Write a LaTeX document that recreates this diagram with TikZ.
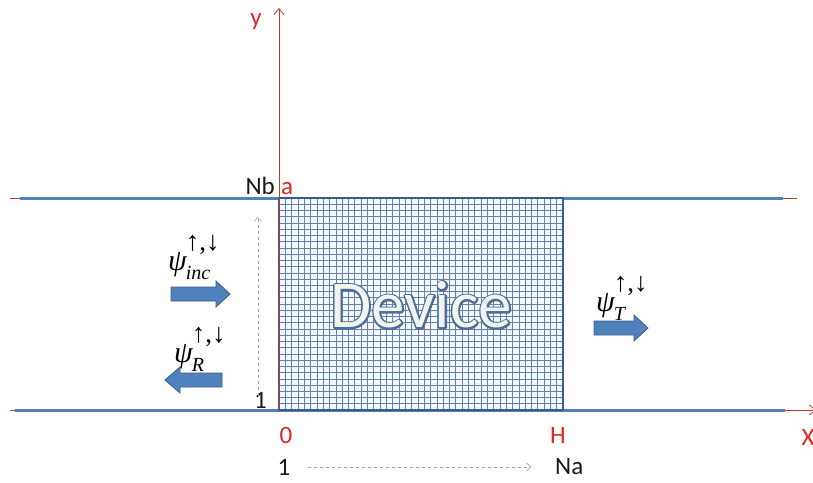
\documentclass[tikz,border=0pt]{standalone}
\usepackage{fontspec}
\setmainfont{Carlito}
\newfontfamily\psifont{Liberation Serif}
\usetikzlibrary{arrows.meta}
\definecolor{lineblue}{HTML}{4F81BD}
\definecolor{darkblue}{HTML}{385D8A}
\definecolor{gridblue}{HTML}{5F84AE}
\definecolor{axisred}{HTML}{C0392B}
\definecolor{labred}{HTML}{E02424}
\definecolor{dashblue}{HTML}{8AA8CC}
\definecolor{devfill}{HTML}{F4F4EE}
\definecolor{devshadow}{HTML}{A0A8B4}
\tikzset{
  lab/.style={font=\fontsize{25}{25}\selectfont, inner sep=0pt, text=black!90},
  redlab/.style={lab, text=labred},
  axisline/.style={axisred, line width=0.8pt},
  bandline/.style={lineblue, line width=3pt},
  gridline/.style={gridblue, line width=0.55pt},
  dasharrow/.style={dashblue, dashed, line width=0.7pt, -{Straight Barb[length=4pt,width=8pt]}},
  blockarrow/.style={fill=lineblue, draw=darkblue, line width=0.8pt, line join=miter},
  psilab/.style={anchor=base west, inner sep=0pt, font=\psifont\fontsize{30}{30}\selectfont\itshape},
  devtext/.style={font=\fontsize{67}{67}\selectfont, inner sep=0pt}
}
\newcommand{\psilabel}[1]{ψ\hspace{-1pt}\rlap{\raisebox{20pt}{\upshape\fontsize{27}{27}\selectfont ↑,↓}}\raisebox{-9pt}{\fontsize{20}{20}\selectfont #1}}
\newcommand{\outlinedtext}[1]{\rlap{\special{pdf:literal direct 1 Tr 3.4 w 1 j 0.30 0.43 0.60 RG}#1\special{pdf:literal direct 0 Tr}}#1}
\begin{document}
\begin{tikzpicture}[x=1pt,y=-1pt]
\useasboundingbox (0,0) rectangle (813,482);
% red horizontal lines under the bands
\draw[axisline] (10,198) -- (797,198);
\draw[axisline, -{Straight Barb[length=6pt,width=10pt]}] (10,410) -- (816,410);
% blue band lines
\draw[bandline] (20,198) -- (783,198);
\draw[bandline] (15,410) -- (785,410);
% device grid
\fill[blue!3] (279,198) rectangle (563,410);
\foreach \i in {1,...,44} \draw[gridline] ({279+\i*284/45},198) -- ({279+\i*284/45},410);
\foreach \j in {1,...,33} \draw[gridline] (279,{198+\j*212/34}) -- (563,{198+\j*212/34});
\draw[darkblue, line width=1.6pt] (279,198) rectangle (563,410);
% y axis
\draw[axisline, -{Straight Barb[length=6pt,width=10pt]}] (279,410) -- (279,8);
% Device text
\node[devtext, text=devfill] (dev) at (421,305) {\outlinedtext{Device}};
% labels
\node[redlab] (ylab) at (256,22) {y};
\node[lab, anchor=base east] (nb) at (275,194) {Nb};
\node[redlab, anchor=base west] (alab) at (281,194) {a};
\node[lab, anchor=base east] (one1) at (267,408) {1};
\node[redlab] (zero) at (286,435) {0};
\node[redlab] (hlab) at (558,435) {H};
\node[redlab] (xlab) at (808,437) {X};
\node[lab] (one2) at (284,467) {1};
\node[lab, anchor=west] (na) at (555,467) {Na};
% dashed index arrows
\coordinate (vs) at (258,396);
\coordinate (ve) at (258,217);
\draw[dasharrow] (vs) -- (ve);
\coordinate (hs) at (308,467);
\coordinate (he) at (531,467);
\draw[dasharrow] (hs) -- (he);
% psi labels
\node[psilab] (pinc) at (168,270) {\psilabel{inc}};
\node[psilab] (pr) at (174,362) {\psilabel{R}};
\node[psilab] (pt) at (596,311) {\psilabel{T}};
% block arrows
\draw[blockarrow] (171,287) -- (216,287) -- (216,281) -- (230,294) -- (216,307) -- (216,301) -- (171,301) -- cycle;
\draw[blockarrow] (222,373) -- (180,373) -- (180,367) -- (165,380) -- (180,393) -- (180,387) -- (222,387) -- cycle;
\draw[blockarrow] (594,321) -- (634,321) -- (634,315) -- (648,328) -- (634,341) -- (634,335) -- (594,335) -- cycle;
\end{tikzpicture}
\end{document}
